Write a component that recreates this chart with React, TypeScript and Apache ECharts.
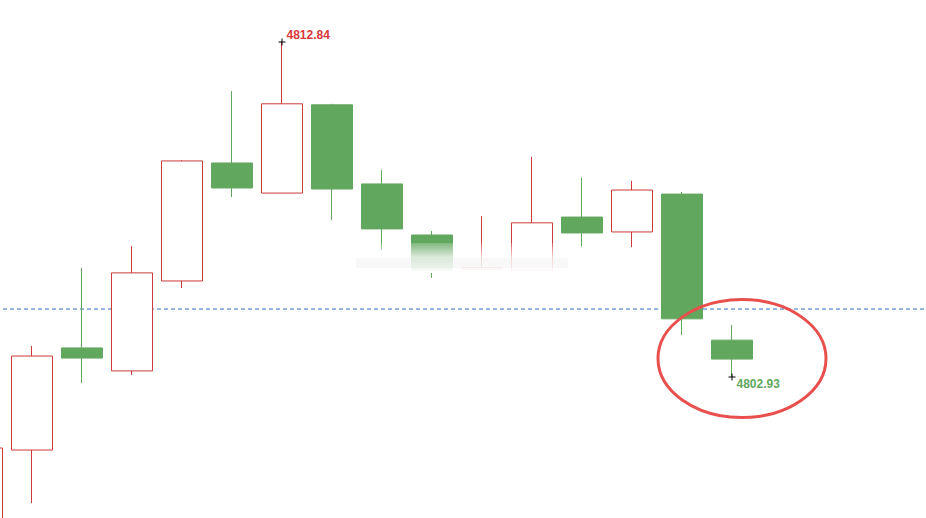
import React, { useEffect, useRef } from "react";
import * as echarts from "echarts";

// candle index labels (4 trailing empty slots so the grid reaches the right edge)
const categories = [
  "c0", "c1", "c2", "c3", "c4", "c5", "c6", "c7", "c8", "c9",
  "c10", "c11", "c12", "c13", "c14", "c15", "e1", "e2", "e3", "e4",
];

// [open, close, low, high]
const opens = [4798.11, 4800.77, 4803.79, 4803.11, 4805.77, 4809.26, 4808.37, 4810.98, 4808.64, 4807.13, 4806.12, 4806.09, 4807.66, 4807.22, 4808.34, 4804.02];
const closes = [4800.83, 4803.55, 4803.49, 4806.01, 4809.32, 4808.52, 4811.01, 4808.49, 4807.31, 4806.09, 4806.16, 4807.49, 4807.19, 4808.46, 4804.65, 4803.46];
const lows = [4797.5, 4799.20, 4802.75, 4802.99, 4805.56, 4808.25, 4808.37, 4807.57, 4806.69, 4805.86, 4806.09, 4806.05, 4806.80, 4806.77, 4804.17, 4802.93];
const highs = [4800.9, 4803.85, 4806.15, 4806.80, 4809.35, 4811.39, 4812.84, 4811.01, 4809.05, 4807.25, 4807.69, 4809.44, 4808.82, 4808.73, 4808.40, 4804.47];

const refLevel = 4804.94;
const maxIndex = 6;
const minIndex = 15;
const yMin = 4798.76;
const yMax = 4814.08;

const RED = "#cc3a3a";
const GREEN = "#62a75e";
const BLUE = "#2f6fc4";
const PLUS = "path://M0,3L3,3L3,0L4,0L4,3L7,3L7,4L4,4L4,7L3,7L3,4L0,4Z";
const SHIFT = 43; // the first candle is partly cut off by the left edge

export default function App() {
  const ref = useRef<HTMLDivElement>(null);
  useEffect(() => {
    if (!ref.current) return;
    const chart = echarts.init(ref.current, null, { renderer: "svg" });
    const data: any[] = opens.map((o, i) => [o, closes[i], lows[i], highs[i]]);
    while (data.length < categories.length) data.push("-");
    const refData = categories.map(() => refLevel);

    const option: any = {
      animation: false,
      backgroundColor: "#ffffff",
      grid: { left: 0, right: 0, top: 0, bottom: 0 },
      xAxis: {
        type: "category",
        data: categories,
        show: false,
        boundaryGap: true,
      },
      yAxis: {
        type: "value",
        min: yMin,
        max: yMax,
        show: false,
        splitLine: { show: false },
      },
      series: [
        {
          type: "line",
          data: refData,
          symbol: "none",
          silent: true,
          z: 1,
          lineStyle: { type: [4, 3], color: BLUE, width: 1 },
          itemStyle: { color: BLUE },
        },
        {
          type: "candlestick",
          data,
          barWidth: 42,
          z: 2,
          itemStyle: {
            color: "#ffffff",
            color0: GREEN,
            borderColor: RED,
            borderColor0: GREEN,
            borderWidth: 1,
          },
          markPoint: {
            silent: true,
            symbol: PLUS,
            symbolSize: 7,
            itemStyle: { color: "#000000" },
            data: [
              {
                coord: [maxIndex, highs[maxIndex]],
                value: highs[maxIndex].toFixed(2),
                label: {
                  show: true,
                  position: "right",
                  distance: 1,
                  offset: [0, -7],
                  color: "#d8383a",
                  fontWeight: "bold",
                  fontSize: 12,
                  fontFamily: "Liberation Sans, Arial, sans-serif",
                },
              },
              {
                coord: [minIndex, lows[minIndex]],
                value: lows[minIndex].toFixed(2),
                label: {
                  show: true,
                  position: "right",
                  distance: 1,
                  offset: [0, 7],
                  color: GREEN,
                  fontWeight: "bold",
                  fontSize: 12,
                  fontFamily: "Liberation Sans, Arial, sans-serif",
                },
              },
            ],
          },
        },
      ],
    };
    chart.setOption(option);

    const c = chart.convertToPixel({ gridIndex: 0 }, [minIndex, (opens[minIndex] + closes[minIndex]) / 2]) as number[];
    chart.setOption({
      graphic: [
        {
          type: "rect",
          silent: true,
          shape: { x: 352 + SHIFT, y: 243, width: 220, height: 30 },
          style: {
            fill: new echarts.graphic.LinearGradient(0, 0, 0, 1, [
              { offset: 0, color: "rgba(255,255,255,0.2)" },
              { offset: 0.5, color: "rgba(255,255,255,0.8)" },
              { offset: 1, color: "rgba(255,255,255,0.97)" },
            ]),
          },
          z: 100,
        },
        {
          type: "rect",
          silent: true,
          shape: { x: 356 + SHIFT, y: 258, width: 212, height: 10 },
          style: { fill: "rgba(200,200,200,0.12)" },
          z: 100,
        },
        {
          type: "ellipse",
          silent: true,
          shape: { cx: c[0] + 10, cy: c[1] + 9, rx: 84, ry: 59 },
          style: { fill: "none", stroke: "#e8504e", lineWidth: 3 },
          z: 101,
        },
      ],
    });

    return () => chart.dispose();
  }, []);
  return (
    <div
      ref={ref}
      style={{ position: "fixed", left: -SHIFT, top: 0, width: 1000, height: 518 }}
    />
  );
}
